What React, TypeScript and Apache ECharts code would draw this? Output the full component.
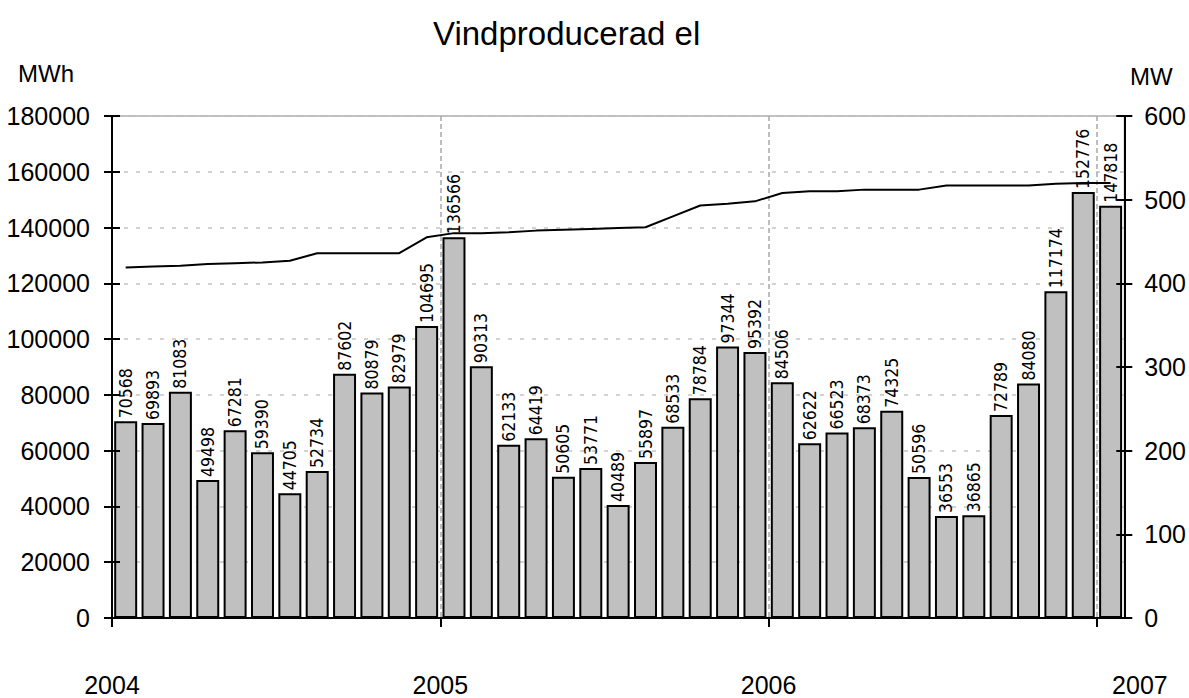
import React, { useEffect, useRef } from 'react';
import * as echarts from 'echarts';

const months = [
  '2004-01', '2004-02', '2004-03', '2004-04', '2004-05', '2004-06', '2004-07', '2004-08', '2004-09', '2004-10', '2004-11', '2004-12',
  '2005-01', '2005-02', '2005-03', '2005-04', '2005-05', '2005-06', '2005-07', '2005-08', '2005-09', '2005-10', '2005-11', '2005-12',
  '2006-01', '2006-02', '2006-03', '2006-04', '2006-05', '2006-06', '2006-07', '2006-08', '2006-09', '2006-10', '2006-11', '2006-12',
  '2007-01',
];

const productionMWh = [
  70568, 69893, 81083, 49498, 67281, 59390, 44705, 52734, 87602, 80879, 82979, 104695,
  136566, 90313, 62133, 64419, 50605, 53771, 40489, 55897, 68533, 78784, 97344, 95392,
  84506, 62622, 66523, 68373, 74325, 50596, 36553, 36865, 72789, 84080, 117174, 152776,
  147818,
];

const capacityMW = [
  419, 420, 421, 423, 424, 425, 427, 436, 436, 436, 436, 455,
  460, 460, 461, 463, 464, 465, 466, 467, 480, 493, 495, 498,
  508, 510, 510, 512, 512, 512, 517, 517, 517, 517, 519, 520,
  520,
];

const yearTickIndex = [0, 12, 24, 36];
const yearLabels = ['2004', '2005', '2006', '2007'];

const FONT = "'Liberation Sans', Arial, sans-serif";
const NARROW = "'DejaVu Sans Condensed', 'Liberation Sans Narrow', sans-serif";

export default function App() {
  const ref = useRef<HTMLDivElement>(null);

  useEffect(() => {
    if (!ref.current) return;
    const chart = echarts.init(ref.current, undefined, { renderer: 'svg' });
    const plain = (v: number) => String(v);
    const option: any = {
      animation: false,
      backgroundColor: '#ffffff',
      title: {
        text: 'Vindproducerad el',
        left: 428,
        top: 12,
        textStyle: { fontFamily: FONT, fontSize: 33, fontWeight: 'normal', color: '#000' },
      },
      graphic: [
        { type: 'text', left: 18, top: 61, style: { text: 'MWh', fontFamily: FONT, fontSize: 24, fill: '#000' } },
        { type: 'text', left: 1130, top: 64, style: { text: 'MW', fontFamily: FONT, fontSize: 24, fill: '#000' } },
      ],
      grid: {
        left: 112,
        right: 64,
        top: 116,
        bottom: 80,
        show: true,
        borderColor: '#808080',
        borderWidth: 1,
        backgroundColor: 'transparent',
      },
      xAxis: [
        {
          type: 'category',
          data: months,
          position: 'bottom',
          boundaryGap: true,
          axisLine: { show: true, onZero: false, lineStyle: { color: '#000', width: 2 } },
          axisTick: { show: false },
          axisLabel: { show: false },
          splitLine: { show: false },
          z: 8,
        },
        {
          type: 'value',
          position: 'bottom',
          min: 0,
          max: months.length,
          interval: 12,
          axisLine: { show: false, onZero: false },
          axisTick: {
            show: true,
            customValues: yearTickIndex,
            length: 9,
            lineStyle: { color: '#000', width: 2 },
          },
          axisLabel: {
            show: true,
            customValues: yearTickIndex,
            margin: 54,
            fontFamily: FONT,
            fontSize: 25,
            color: '#000',
            formatter: (v: number) => {
              const i = yearTickIndex.indexOf(v);
              if (i < 0) return '';
              return i === yearTickIndex.length - 1 ? '{s|' + yearLabels[i] + '}' : yearLabels[i];
            },
            rich: {
              s: { fontFamily: FONT, fontSize: 25, color: '#000', padding: [0, 0, 0, 86] },
            },
          },
          splitLine: {
            show: true,
            lineStyle: { color: '#a8a8a8', width: 1.5, type: [5, 3] },
          },
          z: 0,
        },
      ],
      yAxis: [
        {
          type: 'value',
          position: 'left',
          min: 0,
          max: 180000,
          interval: 20000,
          axisLine: { show: true, lineStyle: { color: '#000', width: 2 } },
          axisTick: { show: true, length: 8, lineStyle: { color: '#000', width: 2 } },
          axisLabel: { margin: 22, fontFamily: FONT, fontSize: 25, color: '#000', formatter: plain },
          splitLine: { show: true, lineStyle: { color: '#c4c4c4', width: 1.5, type: [4, 8] } },
          z: 0,
        },
        {
          type: 'value',
          position: 'right',
          min: 0,
          max: 600,
          interval: 100,
          axisLine: { show: true, lineStyle: { color: '#000', width: 2 } },
          axisTick: { show: true, length: 8, lineStyle: { color: '#000', width: 2 } },
          axisLabel: { margin: 20, fontFamily: FONT, fontSize: 25, color: '#000', formatter: plain },
          splitLine: { show: false },
          z: 8,
        },
        {
          type: 'value',
          position: 'left',
          min: 0,
          max: 180000,
          interval: 20000,
          axisLine: { show: true, lineStyle: { color: '#000', width: 2 } },
          axisTick: { show: true, inside: true, length: 8, lineStyle: { color: '#000', width: 2 } },
          axisLabel: { show: false },
          splitLine: { show: false },
          z: 8,
        },
        {
          type: 'value',
          position: 'right',
          min: 0,
          max: 600,
          interval: 100,
          axisLine: { show: false },
          axisTick: { show: true, inside: true, length: 8, lineStyle: { color: '#000', width: 2 } },
          axisLabel: { show: false },
          splitLine: { show: false },
          z: 8,
        },
      ],
      series: [
        {
          name: 'MWh',
          type: 'bar',
          xAxisIndex: 0,
          yAxisIndex: 0,
          data: productionMWh,
          barCategoryGap: '16%',
          itemStyle: { color: '#c0c0c0', borderColor: '#000', borderWidth: 2 },
          label: {
            show: true,
            position: 'top',
            rotate: 90,
            align: 'left',
            verticalAlign: 'middle',
            distance: 3,
            fontFamily: NARROW,
            fontSize: 17.5,
            color: '#000',
          },
          z: 2,
        },
        {
          name: 'MW',
          type: 'line',
          xAxisIndex: 0,
          yAxisIndex: 1,
          data: capacityMW,
          showSymbol: false,
          symbol: 'none',
          lineStyle: { color: '#000', width: 2 },
          z: 3,
        },
      ],
    };
    chart.setOption(option);
    return () => chart.dispose();
  }, []);

  return (
    <div
      ref={ref}
      style={{ position: 'fixed', left: 0, top: 0, width: 1189, height: 698 }}
    />
  );
}
